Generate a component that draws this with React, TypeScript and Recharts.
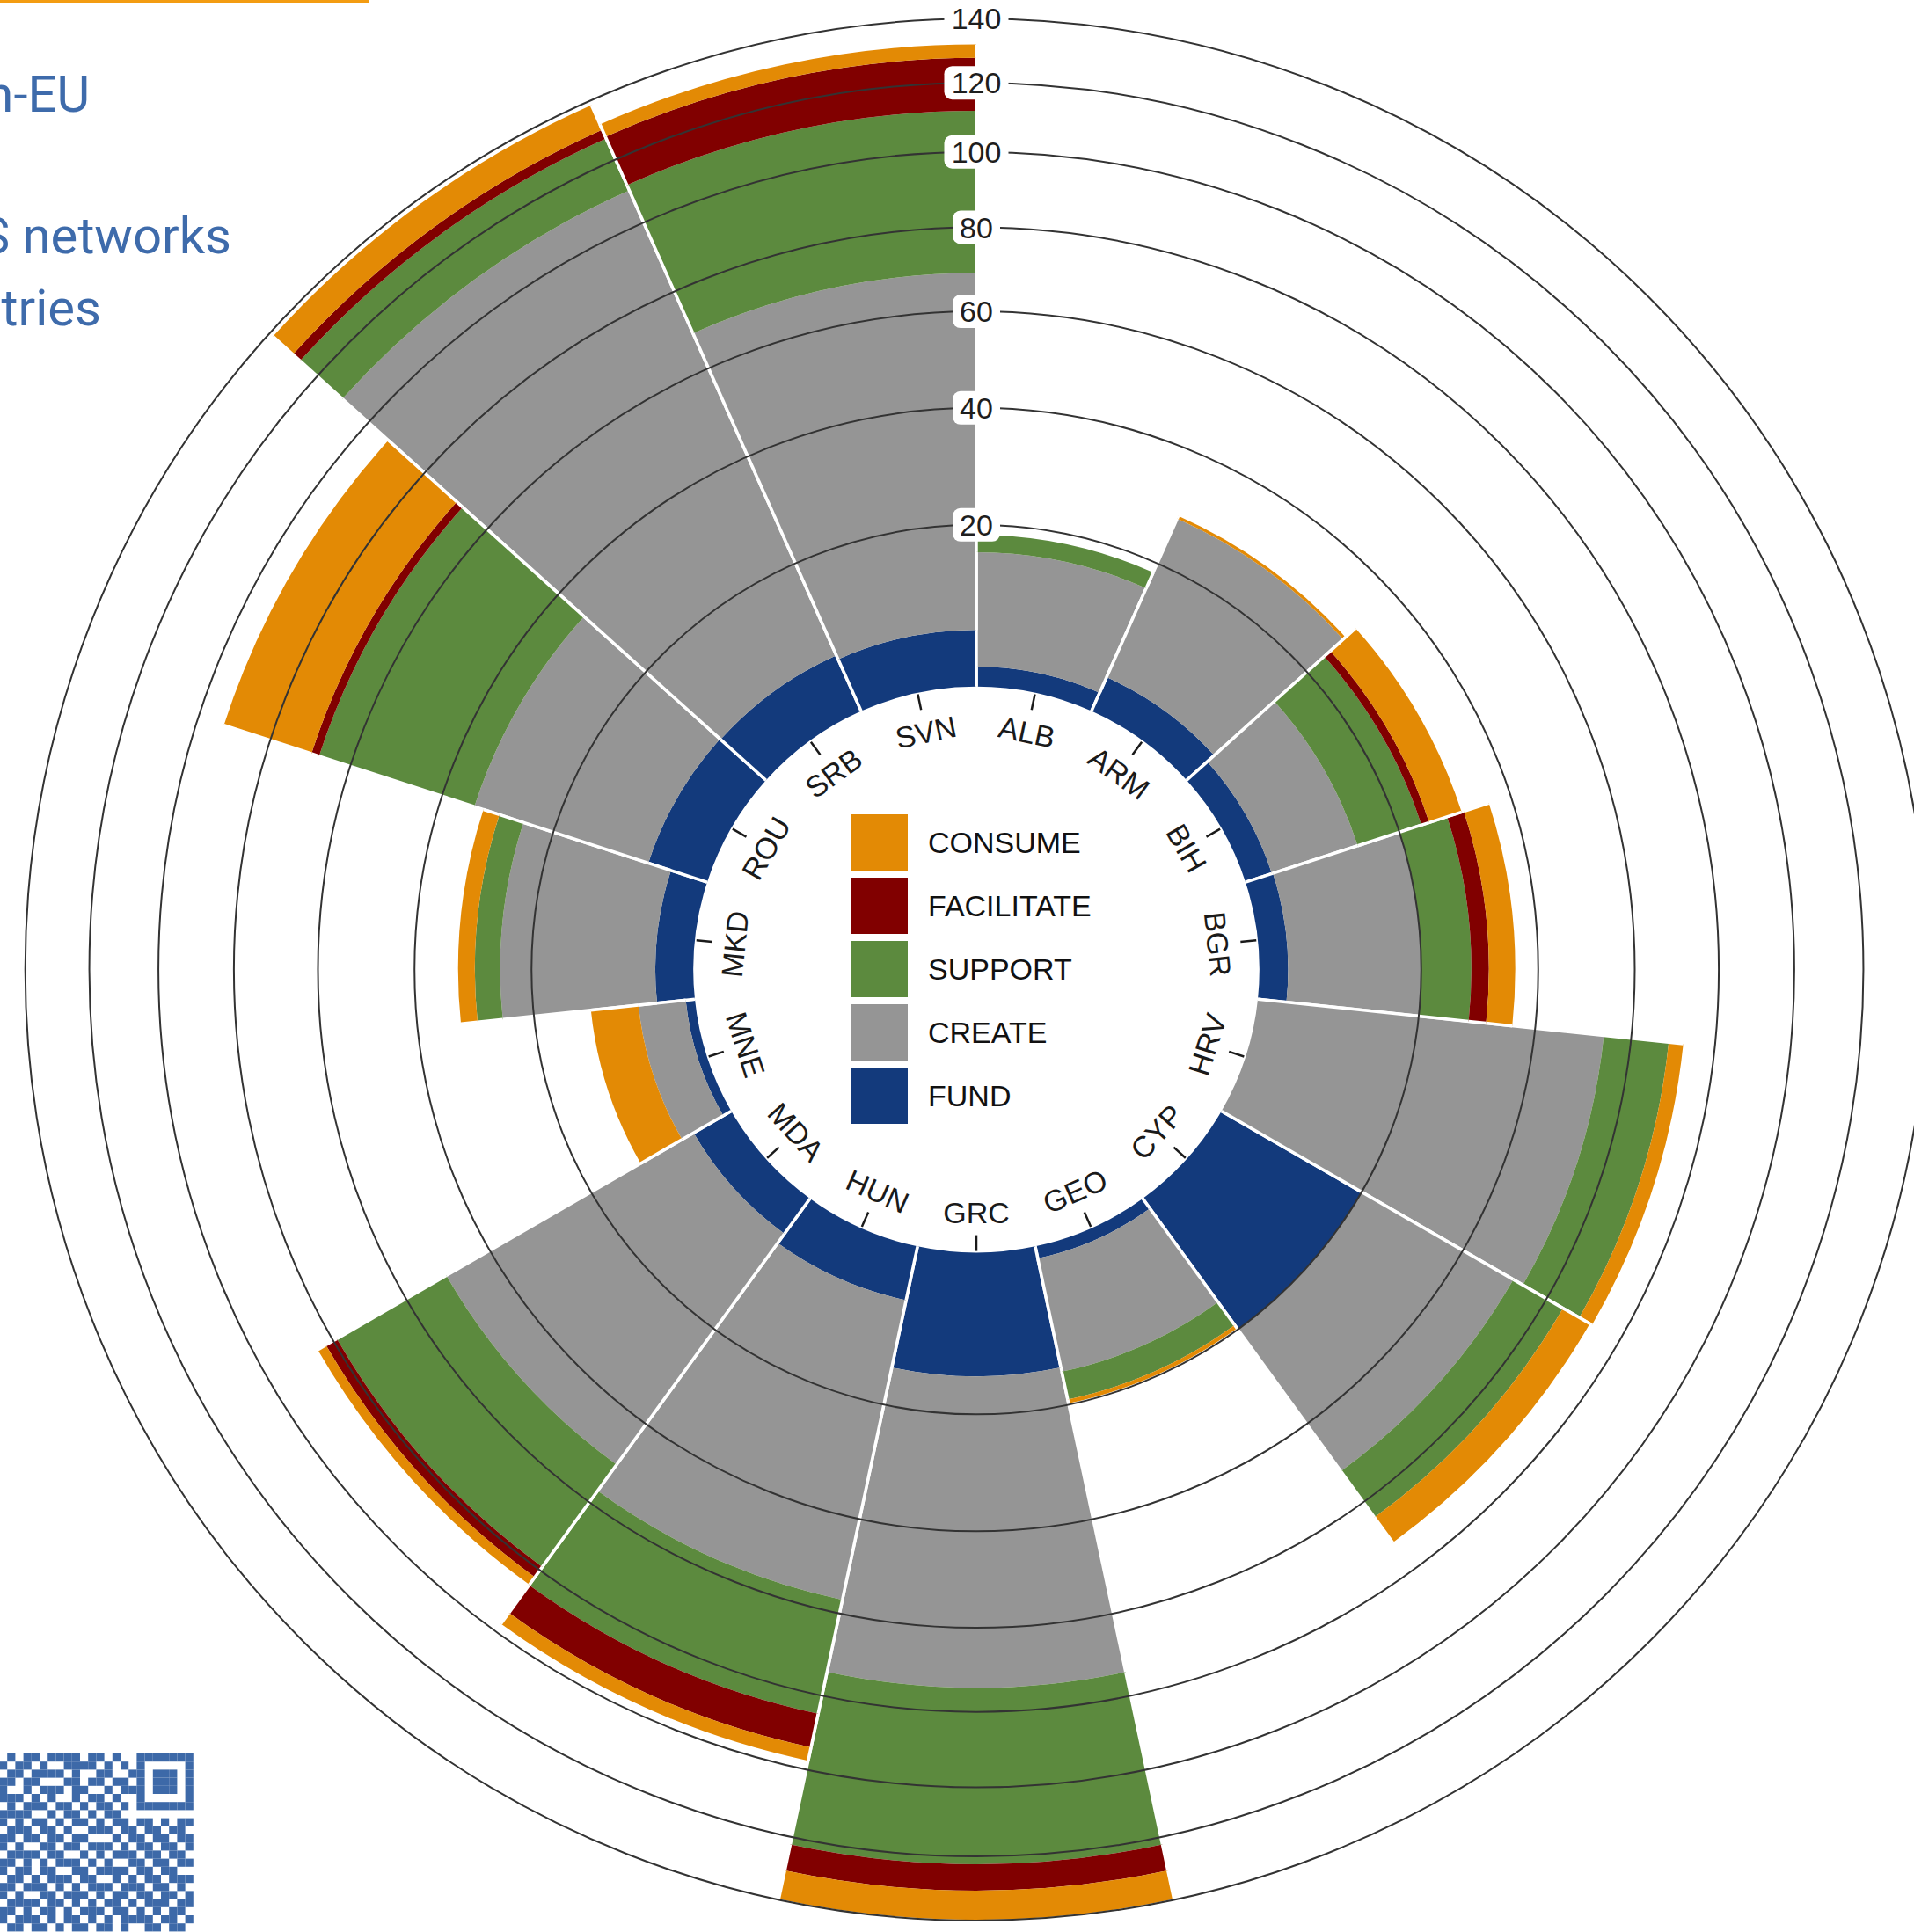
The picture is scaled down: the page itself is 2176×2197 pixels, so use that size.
import React from 'react';
import { RadialBarChart, RadialBar, PolarAngleAxis, PolarRadiusAxis, Sector } from 'recharts';

// countries, clockwise from 12 o'clock
const COUNTRIES = ['ALB', 'ARM', 'BIH', 'BGR', 'HRV', 'CYP', 'GEO', 'GRC', 'HUN', 'MDA', 'MNE', 'MKD', 'ROU', 'SRB', 'SVN'];

// stacked values, inside -> outside
const FUND = [2.0, 3.8, 2.8, 2.9, 0.0, 20.0, 1.2, 14.5, 5.8, 4.5, 0.9, 3.9, 6.6, 6.5, 6.0];
const CREATE = [14.0, 24.0, 10.9, 17.1, 54.0, 31.7, 13.9, 59.5, 51.1, 45.5, 5.1, 21.0, 27.1, 103.5, 62.8];
const SUPPORT = [2.5, 0.0, 9.9, 8.0, 14.7, 12.6, 4.1, 48.3, 27.8, 29.0, 0.0, 4.2, 33.8, 17.0, 42.9];
const FACILITATE = [0.0, 0.0, 1.3, 3.0, 0.0, 0.0, 0.0, 8.2, 9.1, 3.2, 0.0, 0.0, 1.9, 3.0, 15.9];
const CONSUME = [0.0, 0.5, 5.7, 4.7, 3.5, 7.3, 0.6, 9.3, 3.7, 2.4, 5.9, 2.9, 23.3, 8.5, 4.2];

const SERIES_NAMES = ['FUND', 'CREATE', 'SUPPORT', 'FACILITATE', 'CONSUME'];
const RADIUS_TICKS = [20, 40, 60, 80, 100, 120, 140];
const RADIUS_DOMAIN = [0, 140];

const COLORS: Record<string, string> = {
  FUND: '#133A7C',
  CREATE: '#959595',
  SUPPORT: '#5C8A3E',
  FACILITATE: '#810000',
  CONSUME: '#E38A05',
};

const rows = COUNTRIES.map((name, i) => ({
  name,
  FUND: FUND[i],
  CREATE: CREATE[i],
  SUPPORT: SUPPORT[i],
  FACILITATE: FACILITATE[i],
  CONSUME: CONSUME[i],
}));

// layout
const W = 2176;
const H = 2197;
const CX = 1110;
const CY = 1102.6;
const R0 = 321.8;
const R1 = 1081.3;
const LABEL_R = 276;
const BAND = 360 / COUNTRIES.length;
const FONT = '"Liberation Sans", Arial, sans-serif';
const RAD = Math.PI / 180;

// radius scale where the ring area grows linearly with the value (r^2 ~ v)
function areaScale(): any {
  let dom = [0, 1];
  let rng = [0, 1];
  const scale: any = (v: any) => {
    const t = (Number(v) - dom[0]) / (dom[1] - dom[0]);
    const a = rng[0] * rng[0];
    const b = rng[1] * rng[1];
    return Math.sqrt(Math.max(0, a + t * (b - a)));
  };
  scale.domain = (d?: any[]) => {
    if (d === undefined) return dom.slice();
    dom = d.map(Number);
    return scale;
  };
  scale.range = (r?: any[]) => {
    if (r === undefined) return rng.slice();
    rng = r.map(Number);
    return scale;
  };
  scale.invert = (r: number) => {
    const a = rng[0] * rng[0];
    const b = rng[1] * rng[1];
    return dom[0] + ((r * r - a) / (b - a)) * (dom[1] - dom[0]);
  };
  scale.ticks = (n = 7) => {
    const raw = (dom[1] - dom[0]) / n;
    const p = Math.pow(10, Math.floor(Math.log10(raw)));
    const step = raw / p > 5 ? 10 * p : raw / p > 2 ? 5 * p : raw / p > 1 ? 2 * p : p;
    const out: number[] = [];
    for (let v = Math.ceil(dom[0] / step) * step; v <= dom[1] + 1e-9; v += step) out.push(v);
    return out;
  };
  scale.tickFormat = () => (v: any) => String(v);
  scale.nice = () => scale;
  scale.clamp = () => scale;
  scale.copy = () => areaScale().domain(dom).range(rng);
  return scale;
}

const WedgeShape = (props: any) => {
  const { cx, cy, innerRadius, outerRadius, startAngle, endAngle, fill } = props;
  if (!(outerRadius - innerRadius > 0.05)) return <g />;
  const edge = (a: number) => {
    const c = Math.cos(-a * RAD);
    const s = Math.sin(-a * RAD);
    return (
      <line
        x1={cx + c * innerRadius}
        y1={cy + s * innerRadius}
        x2={cx + c * outerRadius}
        y2={cy + s * outerRadius}
        stroke="#ffffff"
        strokeWidth={3.5}
      />
    );
  };
  return (
    <g>
      <Sector
        cx={cx}
        cy={cy}
        innerRadius={innerRadius}
        outerRadius={outerRadius}
        startAngle={startAngle}
        endAngle={endAngle}
        fill={fill}
        stroke="none"
      />
      {edge(startAngle)}
      {edge(endAngle)}
    </g>
  );
};

const RadiusTick = (props: any) => {
  const { x, y, payload } = props;
  const r = payload.coordinate;
  const label = String(payload.value);
  const w = label.length * 19 + 16;
  return (
    <g>
      <circle cx={x} cy={y + r} r={r} fill="none" stroke="#333333" strokeWidth={2} />
      <rect x={x - w / 2} y={y - 19} width={w} height={38} rx={9} fill="#ffffff" />
      <text x={x} y={y} textAnchor="middle" dominantBaseline="central" fontSize={34} fontFamily={FONT} fill="#1e1e1e">
        {label}
      </text>
    </g>
  );
};

const AngleTick = (props: any) => {
  const { payload } = props;
  const idx = COUNTRIES.indexOf(payload.value);
  const theta = (idx + 0.5) * BAND; // clockwise from top
  const sx = Math.sin(theta * RAD);
  const sy = -Math.cos(theta * RAD);
  const x = CX + LABEL_R * sx;
  const y = CY + LABEL_R * sy;
  const rot = theta > 90 && theta < 270 ? theta - 180 : theta >= 270 ? theta - 360 : theta;
  return (
    <g>
      <line x1={CX + 302 * sx} y1={CY + 302 * sy} x2={CX + 320 * sx} y2={CY + 320 * sy} stroke="#1a1a1a" strokeWidth={2.5} />
      <text
        x={x}
        y={y}
        textAnchor="middle"
        dominantBaseline="central"
        fontSize={34}
        fontFamily={FONT}
        fill="#1a1a1a"
        transform={`rotate(${rot}, ${x}, ${y})`}
      >
        {payload.value}
      </text>
    </g>
  );
};

// poster leftovers around the chart
const QR_ROWS = [
  '010110111101101001111111',
  '101101001111010101000001',
  '011011110100110011011101',
  '110110001101101101011101',
  '100101110110010111011101',
  '111010100101101001000001',
  '010111011010110101111111',
  '111100101101011000000000',
  '101011010110101101101011',
  '011101101001110110110110',
  '110110110110001011011011',
  '101001101101110101101101',
  '011110110010101110110110',
  '110101011101010011011011',
  '101101100110111101101100',
  '011010111011001010110111',
  '110111010101110111011010',
  '101001101110101101101101',
  '011110110101011010111011',
  '110101101011101101010110',
  '101110101101010111101101',
  '011011010110110100110110',
];

const Poster = () => (
  <svg width={W} height={H} style={{ position: 'absolute', left: 0, top: 0 }}>
    <rect x={0} y={0} width={420} height={3} fill="#F39C12" />
    <g fontFamily="Roboto, sans-serif" fontSize={58} fill="#3E6BAB" textAnchor="end">
      <text x={102} y={127}>n-EU</text>
      <text x={263} y={288}>S networks</text>
      <text x={115} y={370}>tries</text>
    </g>
    <g fill="#3D69A8">
      {QR_ROWS.map((row, r) =>
        row.split('').map((c, k) =>
          c === '1' ? <rect key={`${r}-${k}`} x={-1 + k * 9.2} y={1994 + r * 9.2} width={9.2} height={9.2} /> : null
        )
      )}
    </g>
  </svg>
);

const LegendBox = () => (
  <div style={{ position: 'absolute', left: 968, top: 926, fontFamily: FONT, fontSize: 34, color: '#111' }}>
    {SERIES_NAMES.slice()
      .reverse()
      .map((name) => (
        <div key={name} style={{ display: 'flex', alignItems: 'center', height: 64, marginBottom: 8 }}>
          <div style={{ width: 64, height: 64, background: COLORS[name] }} />
          <span style={{ marginLeft: 23 }}>{name}</span>
        </div>
      ))}
  </div>
);

export default function App() {
  return (
    <div style={{ position: 'absolute', left: 0, top: 0, width: W, height: H, overflow: 'hidden', background: '#fff' }}>
      <Poster />
      <div style={{ position: 'absolute', left: 0, top: 0 }}>
        <RadialBarChart
          width={W}
          height={H}
          data={rows}
          layout="centric"
          cx={CX}
          cy={CY}
          innerRadius={R0}
          outerRadius={R1}
          startAngle={90 - BAND}
          endAngle={-270 - BAND}
          barCategoryGap={0}
          barGap={0}
          margin={{ top: 0, right: 0, bottom: 0, left: 0 }}
        >
          <PolarAngleAxis dataKey="name" type="category" axisLine={false} tickLine={false} tick={AngleTick} />
          {SERIES_NAMES.map((name) => (
            <RadialBar
              key={name}
              dataKey={name}
              stackId="all"
              fill={COLORS[name]}
              shape={WedgeShape}
              isAnimationActive={false}
            />
          ))}
          <PolarRadiusAxis
            type="number"
            angle={90}
            domain={RADIUS_DOMAIN}
            ticks={RADIUS_TICKS}
            scale={areaScale()}
            axisLine={false}
            tickLine={false}
            tick={RadiusTick}
          />
        </RadialBarChart>
      </div>
      <LegendBox />
    </div>
  );
}
